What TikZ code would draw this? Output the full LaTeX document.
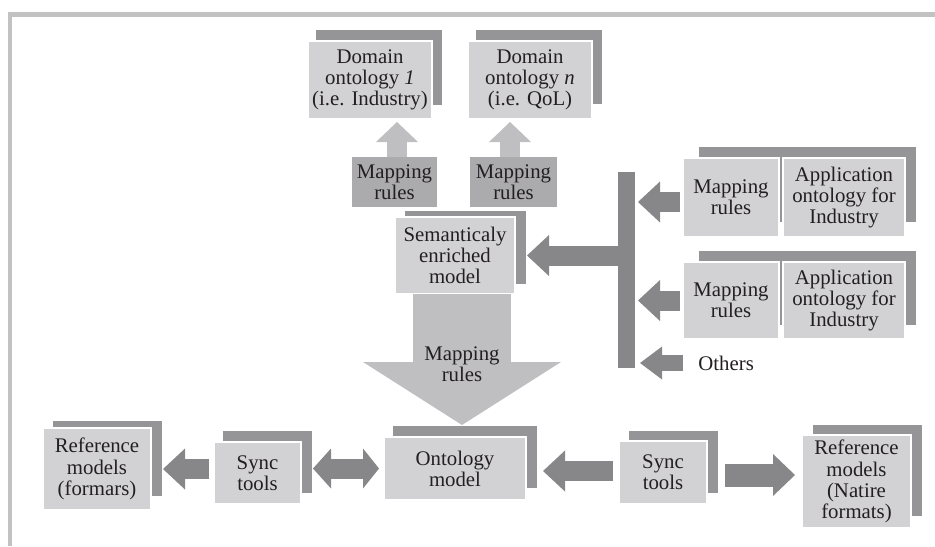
\documentclass[tikz,border=0pt]{standalone}
\usepackage{fontspec}
\setmainfont{Liberation Serif}
\usetikzlibrary{arrows.meta,calc}
\definecolor{boxc}{HTML}{D2D2D4}
\definecolor{shadc}{HTML}{959598}
\definecolor{mapc}{HTML}{ABABAD}
\definecolor{lightarr}{HTML}{BFBFC1}
\definecolor{darkarr}{HTML}{87878A}
\definecolor{framec}{HTML}{C2C2C2}
\definecolor{ink}{HTML}{231F20}

\begin{document}
\begin{tikzpicture}[x=0.5pt,y=-0.5pt,
  font=\fontsize{10.4}{10.6}\selectfont, text=ink,
  box/.style={fill=boxc, draw=white, line width=0.75pt, inner sep=0pt, outer sep=0pt, align=center},
  mapbox/.style={fill=mapc, inner sep=0pt, outer sep=0pt, align=center},
  backshade/.style={fill=shadc},
  darrow/.style={draw=darkarr, line width=10pt, -{Triangle[width=20.5pt,length=11pt,line width=0pt]}},
  smallarrow/.style={draw=darkarr, line width=8pt, -{Triangle[width=16.5pt,length=11pt,line width=0pt]}},
  twoway/.style={draw=darkarr, line width=10pt, {Triangle[width=20pt,length=9pt,line width=0pt]}-{Triangle[width=20pt,length=8pt,line width=0pt]}},
  wideright/.style={draw=darkarr, line width=11.5pt, -{Triangle[width=21pt,length=11pt,line width=0pt]}},
  uparrow/.style={draw=lightarr, line width=10pt, -{Triangle[width=21pt,length=10pt,line width=0pt]}},
  bigarrow/.style={draw=lightarr, line width=49pt, -{Triangle[width=99pt,length=31.5pt,line width=0pt]}},
]
\useasboundingbox (0,0) rectangle (935,546);

% page frame
\fill[framec] (8,12) rectangle (12,546);
\fill[framec] (8,12) rectangle (935,17);

% offset shades behind the boxes
\fill[backshade] (316,30) rectangle (442,105);
\fill[backshade] (476,30) rectangle (602,104);
\fill[backshade] (405,211) rectangle (526,284);
\fill[backshade] (699,147) rectangle (916,222);
\fill[backshade] (699,251) rectangle (916,325);
\fill[backshade] (53,421) rectangle (162,496);
\fill[backshade] (223,431) rectangle (312,493);
\fill[backshade] (393,426) rectangle (537,488);
\fill[backshade] (629,431) rectangle (718,493);
\fill[backshade] (813,425) rectangle (922,516);

% domain ontologies
\node[box, minimum width=62pt, minimum height=39pt] (dom1) at (370,80)
  {Domain\\ontology \textit{1}\\(i.e. Industry)};
\node[box, minimum width=62pt, minimum height=39pt] (domn) at (530,80)
  {Domain\\ontology \textit{n}\\(i.e. QoL)};

% mapping rules towards the domain ontologies
\node[mapbox, minimum width=42.5pt, minimum height=25pt] (map1) at (394.5,182) {Mapping\\rules};
\node[mapbox, minimum width=43.5pt, minimum height=25pt] (map2) at (513.5,182) {Mapping\\rules};

% enriched model
\node[box, minimum width=60pt, minimum height=38.5pt] (sem) at (455,255.5)
  {Semanticaly\\enriched\\model};

% application ontologies
\node[box, minimum width=48pt, minimum height=39.5pt] (rm1) at (731,197.5) {Mapping\\rules};
\node[box, minimum width=61pt, minimum height=39.5pt] (app1) at (844,197.5)
  {Application\\ontology for\\Industry};
\node[box, minimum width=48pt, minimum height=38.5pt] (rm2) at (731,300.5) {Mapping\\rules};
\node[box, minimum width=61pt, minimum height=38.5pt] (app2) at (844,300.5)
  {Application\\ontology for\\Industry};
\node[inner sep=0pt, anchor=west] (others) at (698,363) {Others};

% collecting bar
\node[fill=darkarr, inner sep=0pt, outer sep=0pt, minimum width=8.5pt, minimum height=98pt] (bar) at (626.5,270) {};

% bottom row
\node[box, minimum width=54pt, minimum height=41pt] (ref1) at (97,469)
  {Reference\\models\\(formars)};
\node[box, minimum width=43.5pt, minimum height=31pt] (sync1) at (257.5,473) {Sync\\tools};
\node[box, minimum width=71pt, minimum height=31.5pt] (onto) at (455,468.5) {Ontology\\model};
\node[box, minimum width=44pt, minimum height=31.5pt] (sync2) at (663,472.5) {Sync\\tools};
\node[box, minimum width=54.5pt, minimum height=46.5pt] (ref2) at (856.5,481.5)
  {Reference\\models\\(Natire\\formats)};

% connectors
\draw[uparrow, shorten >=1.5pt] ($(map1.north)+(2.5,0)$) -- ($(map1.north |- dom1.south)+(2.5,0)$);
\draw[uparrow, shorten >=1.5pt] ($(map2.north)+(-3.5,0)$) -- ($(map2.north |- domn.south)+(-3.5,0)$);

\draw[darrow, shorten >=6pt] (bar.west |- sem.east) -- (sem.east);
\draw[darrow, shorten <=1.5pt, shorten >=1.5pt] ($(rm1.west)+(0,4.5)$) -- ($(bar.east |- rm1.west)+(0,4.5)$);
\draw[darrow, shorten <=1.5pt, shorten >=1.5pt] (rm2.west) -- (bar.east |- rm2.west);
\draw[smallarrow, shorten <=7.5pt, shorten >=2.5pt] (others.west) -- (bar.east |- others.west);

\draw[bigarrow, shorten >=6pt] ($(sem.south)+(7,0)$) -- ($(onto.north)+(7,0)$);
\node[align=center, inner sep=0pt] (bigmap) at (462,364) {Mapping\\rules};

\draw[darrow, shorten <=2.5pt, shorten >=6pt] (sync1.west |- ref1.east) -- (ref1.east);
\draw[twoway, shorten <=6pt, shorten >=2.5pt] (sync1.east |- onto.west) -- (onto.west);
\draw[darrow, shorten <=3pt, shorten >=8.5pt] ($(sync2.west)+(0,-1.5)$) -- ($(onto.east |- sync2.west)+(0,-1.5)$);
\draw[wideright, shorten <=9pt, shorten >=3.5pt] ($(sync2.east)+(0,2.5)$) -- ($(ref2.west |- sync2.east)+(0,2.5)$);
\end{tikzpicture}
\end{document}
